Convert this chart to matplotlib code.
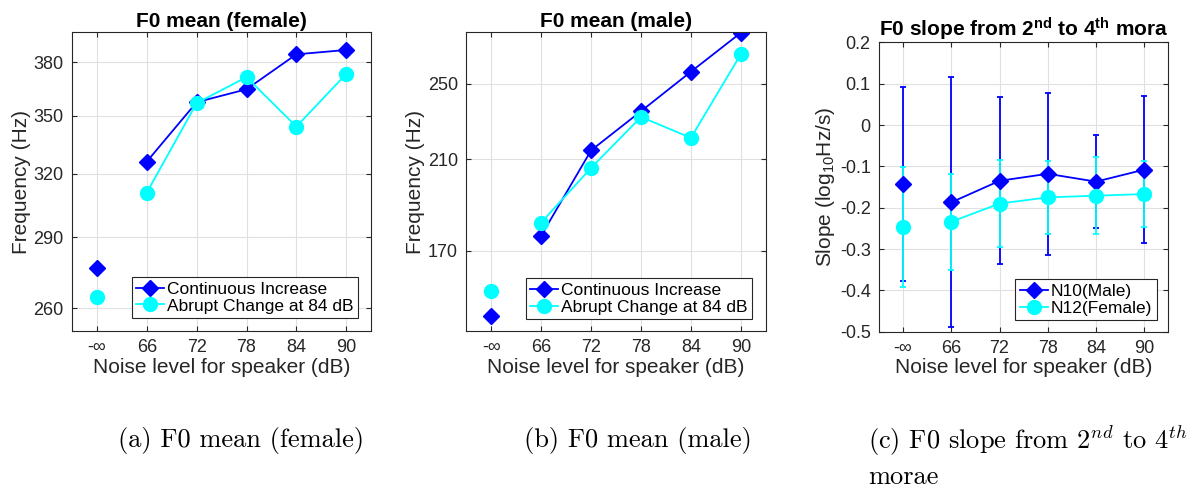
import numpy as np
import matplotlib
matplotlib.use("Agg")
import matplotlib.pyplot as plt
from matplotlib.lines import Line2D
from matplotlib.ticker import NullLocator, FixedLocator

plt.rcParams['font.family'] = ['Liberation Sans', 'DejaVu Sans']
plt.rcParams['mathtext.fontset'] = 'custom'
plt.rcParams['mathtext.rm'] = 'Liberation Sans'
plt.rcParams['mathtext.it'] = 'Liberation Sans:italic'
plt.rcParams['mathtext.bf'] = 'Liberation Sans:bold'

# x categories
noise_labels = ['-\u221e', '66', '72', '78', '84', '90']

# (a) F0 mean, female speakers (Hz)
female_cont = [276.5, 326.0, 357.3, 364.5, 384.7, 387.3]
female_abrupt = [264.6, 310.8, 356.8, 371.4, 344.1, 373.2]
female_yticks = [260, 290, 320, 350, 380]

# (b) F0 mean, male speakers (Hz)
male_cont = [146.3, 176.0, 214.3, 234.6, 257.0, 281.2]
male_abrupt = [155.0, 181.4, 205.8, 231.5, 220.6, 267.6]
male_yticks = [170, 210, 250]

# (c) F0 slope, mean and std (log10 Hz/s)
n10_mean = [-0.143, -0.187, -0.135, -0.118, -0.137, -0.108]
n10_std = [0.235, 0.302, 0.202, 0.196, 0.112, 0.177]
n12_mean = [-0.247, -0.234, -0.190, -0.175, -0.171, -0.167]
n12_std = [0.146, 0.116, 0.105, 0.089, 0.093, 0.080]
slope_yticks = [0.2, 0.1, 0, -0.1, -0.2, -0.3, -0.4, -0.5]

BLUE = '#0000ff'
CYAN = '#00ffff'
DARK = '#262626'


def style_axes(ax):
    ax.set_xlim(-0.5, 5.5)
    ax.set_xticks(range(len(noise_labels)))
    ax.set_xticklabels(noise_labels)
    ax.tick_params(direction='in', top=True, right=True, length=3.5, width=0.8,
                   labelsize=13, colors=DARK, pad=6)
    ax.yaxis.set_minor_locator(NullLocator())
    ax.grid(True, color='#e0e0e0', lw=0.8)
    ax.set_axisbelow(True)
    for s in ax.spines.values():
        s.set_color(DARK)
        s.set_linewidth(0.8)
    ax.set_xlabel('Noise level for speaker (dB)', fontsize=15, color=DARK, labelpad=1)


def legend(ax, anchor, labels):
    handles = [Line2D([], [], color=BLUE, lw=1.3, marker='D', ms=8),
               Line2D([], [], color=CYAN, lw=1.3, marker='o', ms=10)]
    leg = ax.legend(handles, labels, loc='lower right', bbox_to_anchor=anchor,
                    fontsize=12.5, fancybox=False, framealpha=1, edgecolor=DARK,
                    borderaxespad=0, handlelength=1.6, handletextpad=0.2,
                    borderpad=0.25, labelspacing=0.1)
    leg.get_frame().set_linewidth(0.8)


def mean_panel(ax, cont, abrupt, yticks, ylim, title, anchor):
    x = np.arange(len(noise_labels))
    ax.plot(x[1:], cont[1:], color=BLUE, lw=1.3, marker='D', ms=8)
    ax.plot(x[:1], cont[:1], ls='none', color=BLUE, marker='D', ms=8)
    ax.plot(x[1:], abrupt[1:], color=CYAN, lw=1.3, marker='o', ms=10)
    ax.plot(x[:1], abrupt[:1], ls='none', color=CYAN, marker='o', ms=10)
    ax.set_yscale('log')
    ax.set_ylim(*ylim)
    ax.yaxis.set_major_locator(FixedLocator(yticks))
    ax.set_yticklabels([str(t) for t in yticks])
    style_axes(ax)
    ax.set_ylabel('Frequency (Hz)', fontsize=15, color=DARK, labelpad=2)
    ax.set_title(title, fontsize=15, fontweight='bold', pad=4)
    legend(ax, anchor, ['Continuous Increase', 'Abrupt Change at 84 dB'])


fig = plt.figure(figsize=(12.01, 4.91), dpi=100)
ax_a = fig.add_axes([0.0600, 0.3259, 0.2490, 0.6083])
ax_b = fig.add_axes([0.3883, 0.3259, 0.2493, 0.6083])
ax_c = fig.add_axes([0.7319, 0.3244, 0.2409, 0.5894])

mean_panel(ax_a, female_cont, female_abrupt, female_yticks, (251, 398),
           'F0 mean (female)', (0.957, 0.044))
mean_panel(ax_b, male_cont, male_abrupt, male_yticks, (141.2, 281.5),
           'F0 mean (male)', (0.955, 0.040))

# (c) slope with error bars
x = np.arange(len(noise_labels))
ekw = dict(capsize=2.5, elinewidth=1.3, capthick=1.3)
ax_c.errorbar(x[1:], n10_mean[1:], yerr=n10_std[1:], color=BLUE, lw=1.3,
              marker='D', ms=8, **ekw)
ax_c.errorbar(x[:1], n10_mean[:1], yerr=n10_std[:1], color=BLUE, ls='none',
              marker='D', ms=8, **ekw)
ax_c.errorbar(x[1:], n12_mean[1:], yerr=n12_std[1:], color=CYAN, lw=1.3,
              marker='o', ms=10, **ekw)
ax_c.errorbar(x[:1], n12_mean[:1], yerr=n12_std[:1], color=CYAN, ls='none',
              marker='o', ms=10, **ekw)
ax_c.set_ylim(-0.5, 0.2)
ax_c.set_yticks(slope_yticks)
ax_c.set_yticklabels(['%g' % t for t in slope_yticks])
style_axes(ax_c)
ax_c.set_ylabel(r'Slope (log$_{10}$Hz/s)', fontsize=15, color=DARK, labelpad=2)
ax_c.set_title(r'F0 slope from 2$^{\mathbf{nd}}$ to 4$^{\mathbf{th}}$ mora',
               fontsize=15, fontweight='bold', pad=4)
legend(ax_c, (0.96, 0.04), ['N10(Male)', 'N12(Female)'])

# sub-figure captions
cap = dict(fontsize=19, family='cmr10', math_fontfamily='cm', va='center')
fig.text(241.5 / 1201, 1 - 440 / 491, '(a) F0 mean (female)', ha='center', **cap)
fig.text(638 / 1201, 1 - 440 / 491, '(b) F0 mean (male)', ha='center', **cap)
fig.text(868 / 1201, 1 - 440 / 491, r'(c) F0 slope from 2$^{nd}$ to 4$^{th}$', ha='left', **cap)
fig.text(868 / 1201, 1 - 477 / 491, 'morae', ha='left', **cap)

fig.savefig('out.png', dpi=100)
